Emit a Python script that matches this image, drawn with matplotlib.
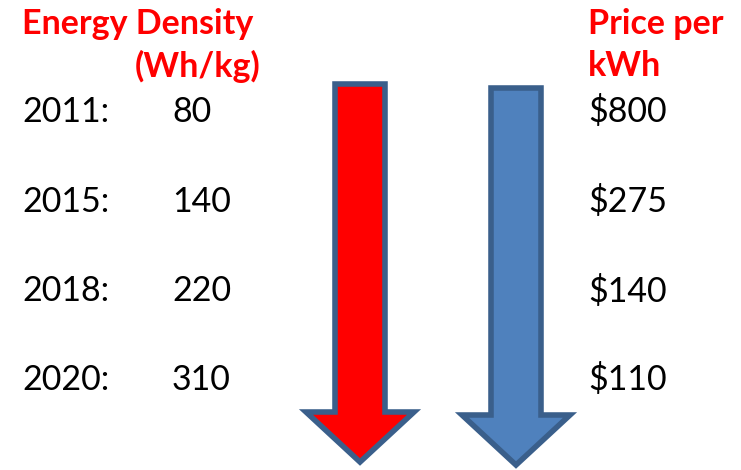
import matplotlib.pyplot as plt
from matplotlib.patches import FancyArrow

years = ["2011:", "2015:", "2018:", "2020:"]
energy_density = ["80", "140", "220", "310"]
price_per_kwh = ["$800", "$275", "$140", "$110"]

row_y = [112, 202, 291, 380]

fig = plt.figure(figsize=(7.41, 4.70), dpi=100)
ax = fig.add_axes([0, 0, 1, 1])
ax.set_xlim(0, 741)
ax.set_ylim(470, 0)
ax.axis("off")

font = "Lato"
red = "#FF0000"

# headers
ax.text(22, 24, "Energy Density", color=red, fontsize=24.5, fontweight="bold",
        family=font, va="center", ha="left")
ax.text(135, 66, "(Wh/kg)", color=red, fontsize=24.5, fontweight="bold",
        family=font, va="center", ha="left")
ax.text(588, 24, "Price per", color=red, fontsize=24.5, fontweight="bold",
        family=font, va="center", ha="left")
ax.text(588, 66, "kWh", color=red, fontsize=24.5, fontweight="bold",
        family=font, va="center", ha="left")

for y, yr, ed, pr in zip(row_y, years, energy_density, price_per_kwh):
    ax.text(22, y, yr, fontsize=24.5, family=font, va="center", ha="left")
    ax.text(172, y, ed, fontsize=24.5, family=font, va="center", ha="left")
    ax.text(588, y, pr, fontsize=24.5, family=font, va="center", ha="left")

# the two down arrows
edge = "#3A5F8B"
arrows = [
    (360, 84, 462, red),
    (516, 88, 465, "#4F81BD"),
]
for cx, top, tip, fill in arrows:
    a = FancyArrow(cx, top, 0, tip - top, width=50, head_width=108,
                   head_length=50, length_includes_head=True,
                   facecolor=fill, edgecolor=edge, linewidth=4,
                   joinstyle="miter")
    ax.add_patch(a)

fig.savefig("out.png", dpi=100)
